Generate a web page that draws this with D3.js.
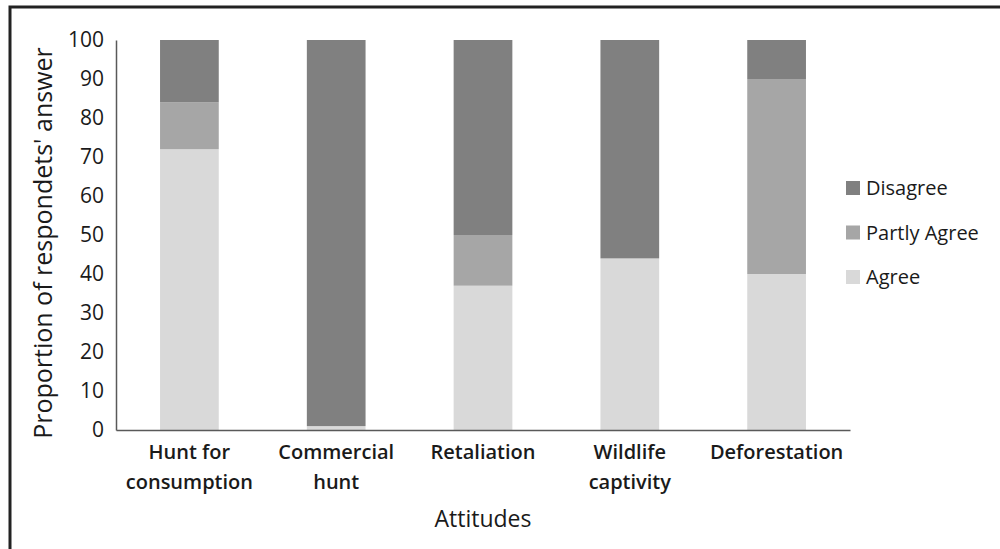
<!DOCTYPE html>
<html><head><meta charset="utf-8">
<script src="https://cdn.jsdelivr.net/npm/d3@7"></script>
<style>body{margin:0;background:#fff}svg{display:block}</style>
</head><body>
<svg id="c" width="1000" height="549"></svg>
<script>
const categories = [["Hunt for","consumption"],["Commercial","hunt"],["Retaliation"],["Wildlife","captivity"],["Deforestation"]];
const agree = [72, 1, 37, 44, 40];
const partlyAgree = [12, 0, 13, 0, 50];
const disagree = [16, 99, 50, 56, 10];
const seriesNames = ["Agree","Partly Agree","Disagree"];
const colors = ["#d9d9d9","#a6a6a6","#808080"];
const yTicks = [0,10,20,30,40,50,60,70,80,90,100];

const svg = d3.select("#c");
const font = "'Open Sans', sans-serif";
svg.append("rect").attr("x",10).attr("y",7).attr("width",1000).attr("height",600)
  .attr("fill","none").attr("stroke","#222").attr("stroke-width",3);

const keys = categories.map(c=>c.join(" "));
const x = d3.scaleBand().domain(keys).range([116,850]).paddingInner(0.6).paddingOuter(0.3);
const y = d3.scaleLinear().domain([0,100]).range([430,40]);

const rows = keys.map((k,i)=>({key:k, "Agree":agree[i], "Partly Agree":partlyAgree[i], "Disagree":disagree[i]}));
const stack = d3.stack().keys(seriesNames)(rows);

svg.append("g").selectAll("g").data(stack).join("g")
  .attr("fill",(d,i)=>colors[i])
  .selectAll("rect").data(d=>d).join("rect")
  .attr("x",d=>x(d.data.key)).attr("width",x.bandwidth())
  .attr("y",d=>y(d[1])).attr("height",d=>y(d[0])-y(d[1]));

// y axis
const ya = svg.append("g").attr("transform","translate(116,0)")
  .call(d3.axisLeft(y).tickValues(yTicks).tickSize(0).tickPadding(12));
ya.select(".domain").attr("stroke","#595959").attr("stroke-width",1.5);
ya.selectAll("text").attr("font-family",font).attr("font-size",21).attr("fill","#1a1a1a");

// x axis
const xa = svg.append("g").attr("transform","translate(0,430)")
  .call(d3.axisBottom(x).tickSize(0).tickFormat(""));
xa.select(".domain").attr("stroke","#595959").attr("stroke-width",1.5);
keys.forEach((k,i)=>{
  const t = svg.append("text").attr("x",x(k)+x.bandwidth()/2).attr("y",459)
    .attr("text-anchor","middle").attr("font-family",font).attr("font-size",20)
    .attr("font-weight",600).attr("fill","#1a1a1a");
  categories[i].forEach((line,j)=>t.append("tspan").attr("x",x(k)+x.bandwidth()/2).attr("dy",j?30:0).text(line));
});

svg.append("text").attr("x",483).attr("y",527).attr("text-anchor","middle")
  .attr("font-family",font).attr("font-size",23).attr("fill","#1a1a1a").text("Attitudes");
svg.append("text").attr("transform","translate(52,243) rotate(-90)").attr("text-anchor","middle")
  .attr("font-family",font).attr("font-size",25).attr("fill","#1a1a1a").text("Proportion of respondets' answer");

// legend
const legend = ["Disagree","Partly Agree","Agree"];
const legendColors = ["#808080","#a6a6a6","#d9d9d9"];
legend.forEach((n,i)=>{
  const cy = 188 + i*44.5;
  svg.append("rect").attr("x",846).attr("y",cy-7).attr("width",14).attr("height",14).attr("fill",legendColors[i]);
  svg.append("text").attr("x",866).attr("y",cy).attr("dy","0.35em").attr("font-family",font)
    .attr("font-size",20).attr("fill","#1a1a1a").text(n);
});
</script>
</body></html>
